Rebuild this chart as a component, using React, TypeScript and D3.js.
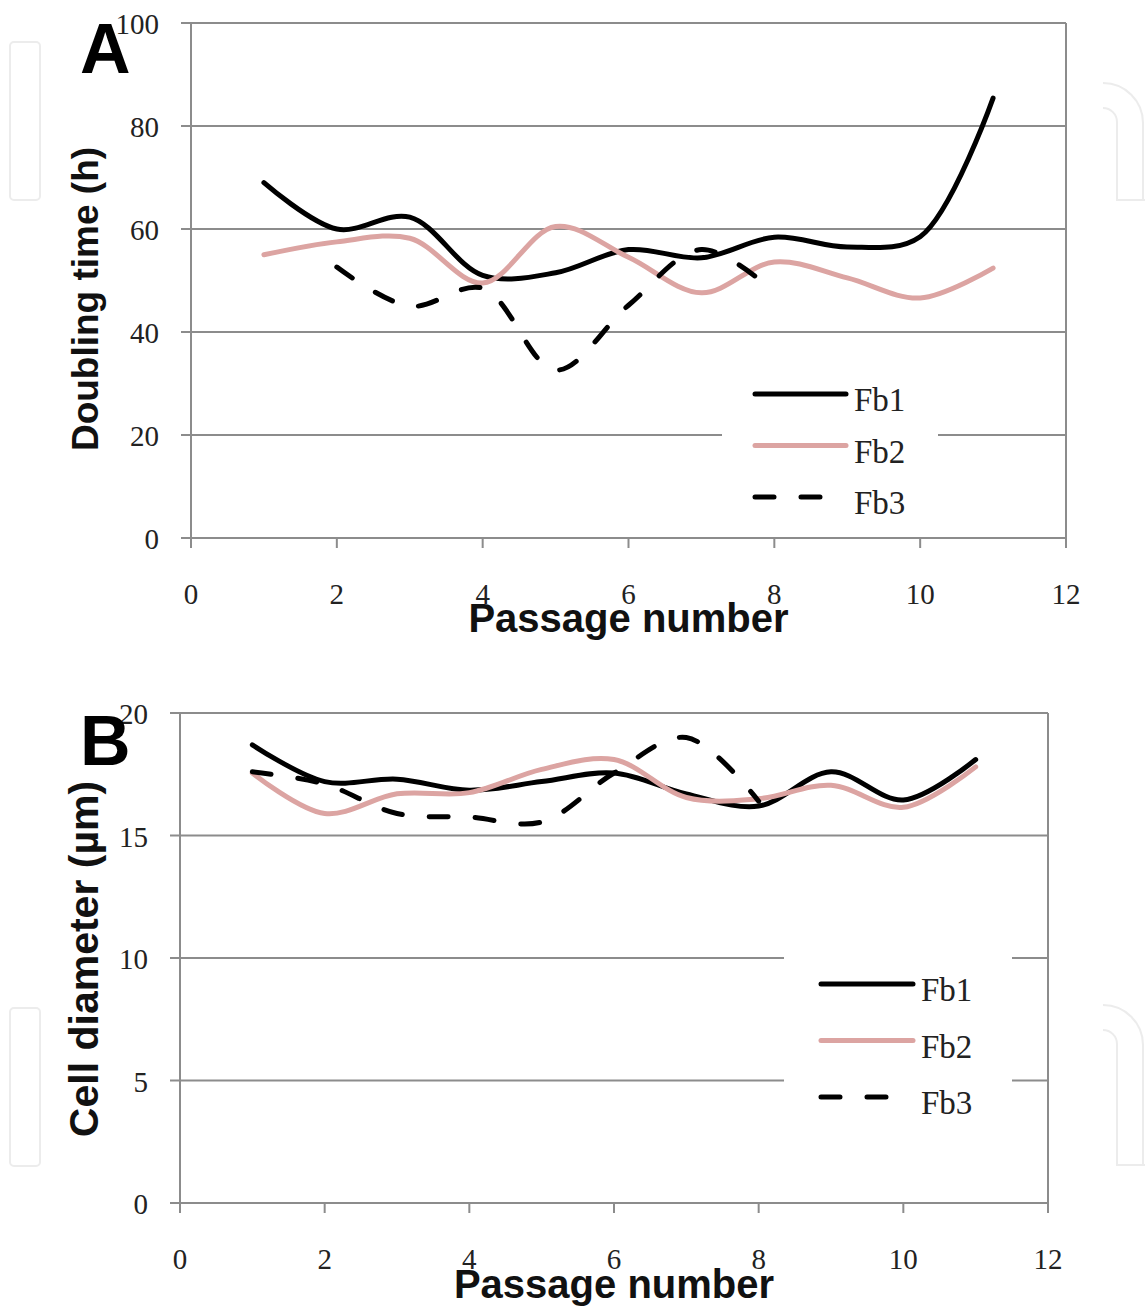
import React from "react";
import * as d3 from "d3";

const passages = [1, 2, 3, 4, 5, 6, 7, 8, 9, 10, 11];
const seriesNames = ["Fb1", "Fb2", "Fb3"];

// Panel A: doubling time (h)
const fb1A: (number | null)[] = [69, 60, 62.3, 51, 51.5, 56, 54.4, 58.4, 56.5, 58.5, 85.4];
const fb2A: (number | null)[] = [55, 57.5, 58.2, 49.5, 60.5, 54.5, 47.6, 53.6, 50.5, 46.6, 52.4];
const fb3A: (number | null)[] = [null, 52.6, 45, 48.5, 32.6, 45.2, 56, 47.8, null, null, null];

// Panel B: cell diameter (µm)
const fb1B: (number | null)[] = [18.7, 17.2, 17.3, 16.85, 17.2, 17.55, 16.7, 16.2, 17.6, 16.45, 18.1];
const fb2B: (number | null)[] = [17.55, 15.9, 16.7, 16.75, 17.7, 18.1, 16.55, 16.5, 17.05, 16.15, 17.8];
const fb3B: (number | null)[] = [17.6, 17.1, 15.9, 15.75, 15.55, 17.55, 19.0, 16.4, null, null, null];

const xTicks = [0, 2, 4, 6, 8, 10, 12];
const yTicksA = [0, 20, 40, 60, 80, 100];
const yTicksB = [0, 5, 10, 15, 20];

const COLORS = ["#000000", "#dca4a2", "#000000"];
const DASH = [null, null, "19 27"];
const GRID = "#8c8c8c";
const SERIF = "'Liberation Serif', 'DejaVu Serif', serif";
const SANS = "'Liberation Sans', Arial, sans-serif";

type PanelProps = {
  letter: string;
  yLabel: string;
  yTicks: number[];
  yMax: number;
  series: (number | null)[][];
  left: number;
  right: number;
  top: number;
  bottom: number;
  labelX: number;
  labelCY: number;
  xLabelY: number;
  xTickY: number;
  yTickRight: number;
  letterY: number;
  yLabelSize: number;
  legend: { x1: number; x2: number; y0: number; dy: number; box: [number, number, number, number] };
};

function Panel(p: PanelProps) {
  const x = d3.scaleLinear().domain([0, 12]).range([p.left, p.right]);
  const y = d3.scaleLinear().domain([0, p.yMax]).range([p.bottom, p.top]);
  const line = d3
    .line<[number, number | null]>()
    .defined((d) => d[1] != null)
    .x((d) => x(d[0]))
    .y((d) => y(d[1] as number))
    .curve(d3.curveCatmullRom.alpha(0.5));
  const lg = p.legend;
  return (
    <g>
      {p.yTicks.map((t) => (
        <line key={"g" + t} x1={p.left - 10} x2={p.right} y1={y(t)} y2={y(t)} stroke={GRID} strokeWidth={2} />
      ))}
      <line x1={p.left} x2={p.left} y1={p.top} y2={p.bottom} stroke={GRID} strokeWidth={2} />
      <line x1={p.right} x2={p.right} y1={p.top} y2={p.bottom + 10} stroke={GRID} strokeWidth={2} />
      {xTicks.map((t) => (
        <line key={"xt" + t} x1={x(t)} x2={x(t)} y1={p.bottom} y2={p.bottom + 10} stroke={GRID} strokeWidth={2} />
      ))}
      <rect x={lg.box[0]} y={lg.box[1]} width={lg.box[2]} height={lg.box[3]} fill="#fff" />
      {p.series.map((s, i) => (
        <path
          key={"s" + i}
          d={line(passages.map((px, j) => [px, s[j]] as [number, number | null])) || ""}
          fill="none"
          stroke={COLORS[i]}
          strokeWidth={5}
          strokeLinecap="round"
          strokeLinejoin="round"
          strokeDasharray={DASH[i] || undefined}
        />
      ))}
      {seriesNames.map((n, i) => (
        <g key={"l" + n}>
          <line
            x1={lg.x1}
            x2={lg.x2}
            y1={lg.y0 + i * lg.dy}
            y2={lg.y0 + i * lg.dy}
            stroke={COLORS[i]}
            strokeWidth={5}
            strokeLinecap="round"
            strokeDasharray={DASH[i] || undefined}
          />
          <text x={lg.x2 + 8} y={lg.y0 + i * lg.dy + 17} fontFamily={SERIF} fontSize={33} fill="#222">
            {n}
          </text>
        </g>
      ))}
      {p.yTicks.map((t) => (
        <text key={"yl" + t} x={p.yTickRight} y={y(t) + 11} textAnchor="end" fontFamily={SERIF} fontSize={29} fill="#222">
          {t}
        </text>
      ))}
      {xTicks.map((t) => (
        <text key={"xl" + t} x={x(t)} y={p.xTickY} textAnchor="middle" fontFamily={SERIF} fontSize={29} fill="#222">
          {t}
        </text>
      ))}
      <text x={x(6)} y={p.xLabelY} textAnchor="middle" fontFamily={SANS} fontWeight="bold" fontSize={40} fill="#111">
        Passage number
      </text>
      <text
        transform={`translate(${p.labelX},${p.labelCY}) rotate(-90)`}
        textAnchor="middle"
        fontFamily={SANS}
        fontWeight="bold"
        fontSize={p.yLabelSize}
        fill="#111"
      >
        {p.yLabel}
      </text>
      <text x={80} y={p.letterY} fontFamily={SANS} fontWeight="bold" fontSize={70} fill="#000">
        {p.letter}
      </text>
    </g>
  );
}

function Watermarks() {
  const st = { fill: "none", stroke: "#ececec", strokeWidth: 2 };
  const right = (y0: number, y1: number) => (
    <g>
      <path d={`M1103,${y0} A40,40 0 0 1 1143,${y0 + 40} L1143,${y1}`} {...st} />
      <path d={`M1103,${y0 + 25} A14,14 0 0 1 1117,${y0 + 39} L1117,${y1} L1145,${y1}`} {...st} />
    </g>
  );
  return (
    <g>
      <rect x={10} y={42} width={30} height={158} rx={4} {...st} />
      <rect x={10} y={1008} width={30} height={158} rx={4} {...st} />
      {right(83, 200)}
      {right(1005, 1165)}
    </g>
  );
}

export default function App() {
  return (
    <svg width={1145} height={1309} style={{ position: "absolute", left: 0, top: 0, background: "#fff" }}>
      <rect width={1145} height={1309} fill="#fff" />
      <Watermarks />
      <Panel
        letter="A"
        yLabel="Doubling time (h)"
        yTicks={yTicksA}
        yMax={100}
        series={[fb1A, fb2A, fb3A]}
        left={191}
        right={1066}
        top={23}
        bottom={538}
        labelX={98}
        labelCY={299}
        xLabelY={632}
        xTickY={604}
        yTickRight={159}
        letterY={73}
        yLabelSize={37}
        legend={{ x1: 755, x2: 846, y0: 394, dy: 51.5, box: [722, 362, 216, 160] }}
      />
      <Panel
        letter="B"
        yLabel="Cell diameter (µm)"
        yTicks={yTicksB}
        yMax={20}
        series={[fb1B, fb2B, fb3B]}
        left={180}
        right={1048}
        top={713}
        bottom={1203}
        labelX={98}
        labelCY={959}
        xLabelY={1298}
        xTickY={1269}
        yTickRight={148}
        letterY={765}
        yLabelSize={41}
        legend={{ x1: 821, x2: 913, y0: 984, dy: 56.5, box: [784, 945, 228, 180] }}
      />
    </svg>
  );
}
